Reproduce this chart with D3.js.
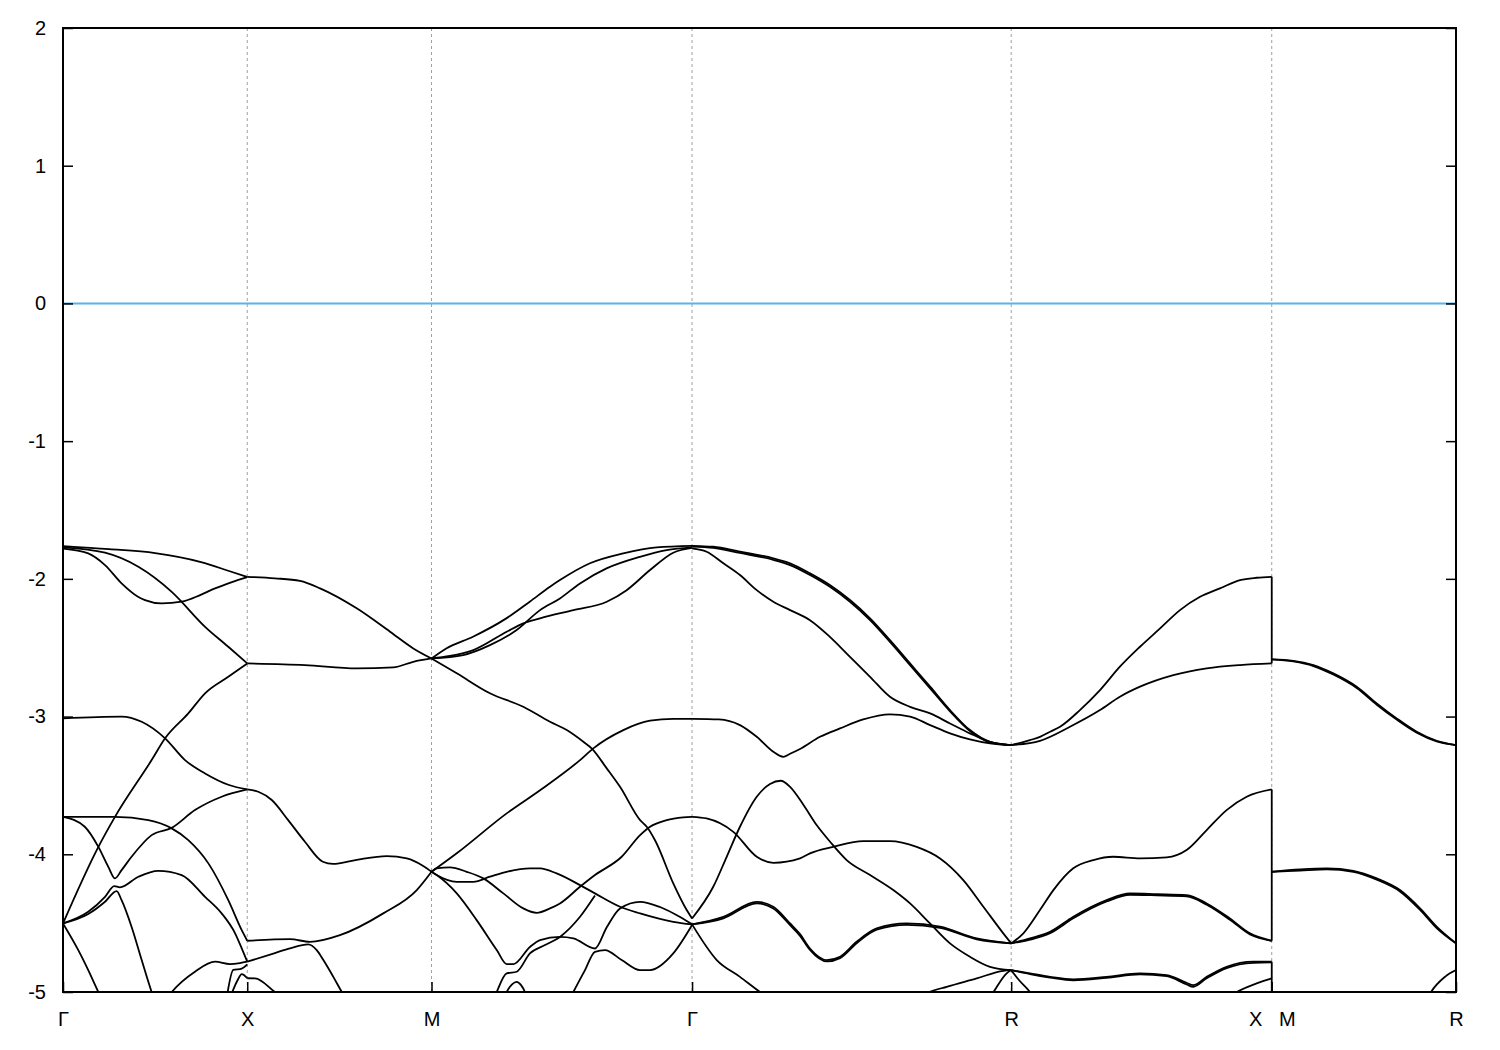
<!DOCTYPE html>
<html>
<head>
<meta charset="utf-8">
<script src="https://cdn.jsdelivr.net/npm/d3@7"></script>
<style>
  html, body { margin: 0; padding: 0; background: #ffffff; }
  svg { display: block; }
</style>
</head>
<body>
<svg id="chart" width="1500" height="1050"></svg>
<script>
// ---------------- data ----------------
const kPoints = [0, 1, 2, 3.414, 5.146, 6.560, 7.560];
const kLabels = ["Γ", "X", "M", "Γ", "R", "X   M", "R"];
const gridK = [1, 2, 3.414, 5.146, 6.560];
const yTicks = [2, 1, 0, -1, -2, -3, -4, -5];
const fermiLevel = 0;

// Γ – X
const gammaX = [
  [[0,-1.762],[0.25,-1.784],[0.5,-1.813],[0.749,-1.878],[0.901,-1.943],[1,-1.987]],
  [[0,-1.78],[0.137,-1.815],[0.228,-1.90],[0.318,-2.033],[0.407,-2.13],[0.445,-2.154],[0.536,-2.178],[0.644,-2.166],[0.744,-2.118],[0.825,-2.069],[0.917,-2.023],[1,-1.987]],
  [[0,-1.771],[0.228,-1.81],[0.409,-1.912],[0.59,-2.094],[0.771,-2.348],[0.897,-2.493],[1,-2.614]],
  [[0,-3.013],[0.318,-3.0],[0.427,-3.038],[0.554,-3.158],[0.662,-3.316],[0.771,-3.413],[0.901,-3.497],[1,-3.529]],
  [[0,-4.502],[0.192,-3.946],[0.282,-3.728],[0.481,-3.316],[0.554,-3.158],[0.68,-2.977],[0.771,-2.831],[0.897,-2.711],[1,-2.614]],
  [[0,-3.728],[0.282,-3.728],[0.463,-3.752],[0.59,-3.812],[0.68,-3.897],[0.789,-4.066],[0.897,-4.333],[0.97,-4.551],[1,-4.628]],
  [[0,-3.728],[0.118,-3.80],[0.192,-3.946],[0.246,-4.091],[0.282,-4.175],[0.318,-4.115],[0.372,-4.018],[0.481,-3.861],[0.59,-3.808],[0.716,-3.679],[0.861,-3.582],[1,-3.529]],
  [[0,-4.502],[0.137,-4.418],[0.228,-4.309],[0.278,-4.231],[0.309,-4.24],[0.409,-4.163],[0.517,-4.12],[0.644,-4.151],[0.771,-4.309],[0.861,-4.429],[0.934,-4.574],[0.97,-4.683],[1,-4.78]],
  [[0,-4.502],[0.137,-4.434],[0.228,-4.345],[0.291,-4.267],[0.318,-4.333],[0.372,-4.526],[0.427,-4.768],[0.481,-5.0],[0.516,-5.13]],
  [[0,-4.502],[0.083,-4.696],[0.137,-4.841],[0.192,-5.0],[0.228,-5.1]],
  [[0.554,-5.06],[0.59,-5.0],[0.716,-4.853],[0.825,-4.78],[0.906,-4.797],[0.96,-4.79],[1,-4.78]],
  [[0.89,-5.03],[0.924,-4.84],[0.97,-4.83],[1,-4.80]],
  [[0.91,-5.03],[0.948,-4.913],[0.97,-4.87],[1,-4.9]]
];

// X – M
const xM = [
  [[1,-1.985],[1.15,-1.996],[1.286,-2.015],[1.395,-2.069],[1.594,-2.214],[1.775,-2.384],[1.901,-2.505],[2,-2.578]],
  [[1,-2.614],[1.313,-2.626],[1.594,-2.65],[1.793,-2.643],[1.901,-2.602],[2,-2.578]],
  [[1,-3.529],[1.06,-3.546],[1.133,-3.606],[1.222,-3.752],[1.313,-3.909],[1.41,-4.054],[1.465,-4.07],[1.594,-4.04],[1.757,-4.013],[1.866,-4.03],[1.955,-4.085],[2,-4.127]],
  [[1,-4.628],[1.232,-4.616],[1.34,-4.636],[1.503,-4.587],[1.738,-4.429],[1.92,-4.26],[2,-4.127]],
  [[1,-4.78],[1.15,-4.717],[1.232,-4.683],[1.331,-4.654],[1.377,-4.696],[1.413,-4.768],[1.467,-4.89],[1.513,-5.0],[1.54,-5.06]],
  [[1,-4.9],[1.042,-4.901],[1.15,-5.0],[1.19,-5.04]]
];

// M – Γ
const mGamma = [
  [[2,-2.578],[2.08,-2.505],[2.225,-2.42],[2.406,-2.287],[2.533,-2.166],[2.643,-2.057],[2.697,-2.009],[2.86,-1.887],[3.041,-1.815],[3.222,-1.771],[3.414,-1.76]],
  [[2,-2.578],[2.172,-2.553],[2.317,-2.481],[2.462,-2.372],[2.589,-2.227],[2.697,-2.142],[2.806,-2.033],[2.95,-1.924],[3.131,-1.84],[3.276,-1.791],[3.414,-1.771]],
  [[2,-2.578],[2.1,-2.56],[2.227,-2.517],[2.408,-2.384],[2.498,-2.323],[2.589,-2.287],[2.77,-2.227],[2.951,-2.166],[3.059,-2.082],[3.186,-1.936],[3.312,-1.81],[3.414,-1.775]],
  [[2,-2.578],[2.137,-2.686],[2.317,-2.831],[2.498,-2.929],[2.643,-3.038],[2.734,-3.098],[2.824,-3.183],[2.869,-3.231],[2.951,-3.376],[3.023,-3.51],[3.132,-3.752],[3.168,-3.80],[3.213,-3.898],[3.312,-4.211],[3.385,-4.405],[3.414,-4.466]],
  [[2,-4.127],[2.137,-3.993],[2.408,-3.703],[2.589,-3.535],[2.806,-3.316],[2.878,-3.231],[3.041,-3.098],[3.186,-3.03],[3.312,-3.016],[3.414,-3.016]],
  [[2,-4.127],[2.028,-4.102],[2.1,-4.095],[2.191,-4.127],[2.281,-4.175],[2.39,-4.284],[2.498,-4.393],[2.571,-4.425],[2.643,-4.393],[2.697,-4.357],[2.806,-4.236],[2.887,-4.151],[3.032,-4.018],[3.132,-3.861],[3.186,-3.80],[3.276,-3.752],[3.366,-3.732],[3.414,-3.728]],
  [[2,-4.127],[2.028,-4.151],[2.137,-4.20],[2.227,-4.20],[2.317,-4.163],[2.408,-4.127],[2.534,-4.102],[2.589,-4.102],[2.679,-4.139],[2.806,-4.224],[2.887,-4.284],[3.023,-4.381],[3.132,-4.429],[3.312,-4.49],[3.414,-4.509]],
  [[2,-4.127],[2.028,-4.151],[2.137,-4.284],[2.245,-4.478],[2.354,-4.695],[2.408,-4.797],[2.444,-4.797],[2.534,-4.673],[2.589,-4.623],[2.697,-4.6],[2.77,-4.611],[2.887,-4.684],[2.951,-4.53],[3.023,-4.393],[3.132,-4.345],[3.24,-4.383],[3.349,-4.456],[3.414,-4.509]],
  [[2.33,-5.08],[2.354,-5.0],[2.408,-4.865],[2.462,-4.853],[2.534,-4.72],[2.616,-4.659],[2.697,-4.6],[2.806,-4.454],[2.887,-4.30]],
  [[2.74,-5.08],[2.77,-5.0],[2.833,-4.841],[2.887,-4.708],[2.941,-4.696],[3.032,-4.768],[3.132,-4.841],[3.186,-4.841],[3.312,-4.72],[3.414,-4.514]],
  [[2.39,-5.06],[2.408,-5.0],[2.437,-4.945],[2.462,-4.926],[2.486,-4.95],[2.507,-5.0],[2.52,-5.05]]
];

// Γ – R
const gammaR = [
  [[3.414,-1.76],[3.529,-1.767],[3.674,-1.803],[3.855,-1.851],[3.946,-1.887],[4.054,-1.96],[4.162,-2.045],[4.271,-2.154],[4.38,-2.287],[4.488,-2.445],[4.597,-2.614],[4.706,-2.783],[4.814,-2.953],[4.922,-3.098],[5.031,-3.183],[5.146,-3.207]],
  [[3.414,-1.765],[3.529,-1.775],[3.674,-1.812],[3.855,-1.862],[3.946,-1.9],[4.054,-1.972],[4.162,-2.058],[4.271,-2.167],[4.38,-2.3],[4.488,-2.458],[4.597,-2.626],[4.706,-2.795],[4.814,-2.962],[4.922,-3.105],[5.031,-3.187],[5.146,-3.207]],
  [[3.414,-1.779],[3.493,-1.803],[3.584,-1.887],[3.674,-1.972],[3.765,-2.082],[3.855,-2.166],[3.946,-2.227],[4.054,-2.3],[4.162,-2.421],[4.271,-2.566],[4.38,-2.711],[4.488,-2.856],[4.597,-2.929],[4.706,-2.977],[4.814,-3.05],[4.922,-3.122],[5.031,-3.183],[5.146,-3.207]],
  [[3.414,-3.016],[3.56,-3.02],[3.674,-3.062],[3.765,-3.147],[3.855,-3.256],[3.909,-3.292],[3.946,-3.27],[4.0,-3.235],[4.108,-3.147],[4.217,-3.086],[4.343,-3.021],[4.488,-2.984],[4.597,-3.0],[4.706,-3.062],[4.814,-3.122],[4.922,-3.166],[5.031,-3.195],[5.146,-3.207]],
  [[3.414,-3.728],[3.493,-3.74],[3.638,-3.837],[3.765,-4.018],[3.855,-4.062],[4.0,-4.03],[4.054,-3.993],[4.18,-3.946],[4.343,-3.904],[4.488,-3.904],[4.633,-3.946],[4.76,-4.03],[4.886,-4.187],[4.995,-4.381],[5.103,-4.574],[5.146,-4.647]],
  [[3.414,-4.466],[3.529,-4.236],[3.602,-4.018],[3.674,-3.80],[3.765,-3.582],[3.837,-3.49],[3.895,-3.466],[3.946,-3.51],[4.018,-3.64],[4.09,-3.788],[4.163,-3.909],[4.253,-4.042],[4.38,-4.151],[4.506,-4.26],[4.597,-4.357],[4.705,-4.502],[4.814,-4.647],[4.922,-4.744],[5.031,-4.817],[5.146,-4.841]],
  [[3.414,-4.509],[3.584,-4.454],[3.765,-4.345],[3.855,-4.381],[3.946,-4.502],[4.0,-4.58],[4.054,-4.684],[4.145,-4.768],[4.217,-4.744],[4.307,-4.635],[4.416,-4.538],[4.579,-4.502],[4.76,-4.526],[4.959,-4.611],[5.146,-4.647]],
  [[3.414,-4.509],[3.584,-4.465],[3.765,-4.356],[3.855,-4.393],[3.946,-4.515],[4.0,-4.592],[4.054,-4.695],[4.145,-4.778],[4.217,-4.754],[4.307,-4.646],[4.416,-4.548],[4.579,-4.512],[4.76,-4.534],[4.959,-4.617],[5.146,-4.647]],
  [[3.414,-4.509],[3.548,-4.768],[3.674,-4.89],[3.783,-5.0],[3.85,-5.06]],
  [[4.68,-5.01],[4.7,-5.0],[4.796,-4.962],[4.959,-4.901],[5.103,-4.846],[5.146,-4.841]],
  [[5.03,-5.04],[5.05,-5.0],[5.12,-4.866],[5.146,-4.841]]
];

// R – X
const rX = [
  [[5.146,-3.207],[5.248,-3.171],[5.302,-3.147],[5.357,-3.11],[5.411,-3.074],[5.519,-2.953],[5.628,-2.808],[5.736,-2.638],[5.845,-2.493],[5.954,-2.36],[6.062,-2.227],[6.171,-2.13],[6.279,-2.069],[6.388,-2.009],[6.478,-1.992],[6.56,-1.985]],
  [[5.146,-3.207],[5.302,-3.176],[5.465,-3.074],[5.628,-2.953],[5.736,-2.856],[5.845,-2.783],[6.026,-2.699],[6.207,-2.65],[6.388,-2.626],[6.56,-2.614]],
  [[5.146,-4.647],[5.212,-4.574],[5.302,-4.405],[5.375,-4.26],[5.483,-4.102],[5.592,-4.042],[5.7,-4.018],[5.845,-4.03],[5.99,-4.022],[6.098,-3.969],[6.207,-3.824],[6.315,-3.679],[6.424,-3.582],[6.56,-3.529]],
  [[5.146,-4.647],[5.248,-4.611],[5.357,-4.563],[5.483,-4.454],[5.664,-4.333],[5.791,-4.284],[5.936,-4.289],[6.098,-4.296],[6.207,-4.357],[6.333,-4.466],[6.442,-4.574],[6.56,-4.628]],
  [[5.146,-4.647],[5.248,-4.62],[5.357,-4.573],[5.483,-4.465],[5.664,-4.343],[5.791,-4.294],[5.936,-4.298],[6.098,-4.305],[6.207,-4.366],[6.333,-4.475],[6.442,-4.582],[6.56,-4.628]],
  [[5.146,-4.841],[5.248,-4.865],[5.357,-4.89],[5.483,-4.908],[5.664,-4.89],[5.845,-4.865],[5.99,-4.877],[6.098,-4.933],[6.134,-4.95],[6.207,-4.89],[6.315,-4.817],[6.46,-4.78],[6.56,-4.78]],
  [[5.146,-4.841],[5.248,-4.87],[5.357,-4.895],[5.483,-4.915],[5.664,-4.897],[5.845,-4.872],[5.99,-4.885],[6.098,-4.945],[6.134,-4.962],[6.207,-4.9],[6.315,-4.826],[6.46,-4.788],[6.56,-4.785]],
  [[6.34,-5.03],[6.36,-5.01],[6.478,-4.938],[6.56,-4.901]],
  [[5.146,-4.841],[5.188,-4.913],[5.248,-5.0],[5.27,-5.04]]
];

// X | M discontinuity joins
const xmJumps = [
  [[6.56,-1.985],[6.56,-2.614]],
  [[6.56,-3.529],[6.56,-4.628]],
  [[6.56,-4.78],[6.56,-5.1]]
];

// M – R
const mR = [
  [[6.56,-2.585],[6.677,-2.595],[6.786,-2.626],[6.894,-2.686],[7.021,-2.783],[7.13,-2.904],[7.238,-3.013],[7.347,-3.11],[7.455,-3.176],[7.56,-3.207]],
  [[6.56,-2.585],[6.677,-2.6],[6.786,-2.633],[6.894,-2.695],[7.021,-2.793],[7.13,-2.914],[7.238,-3.022],[7.347,-3.117],[7.455,-3.18],[7.56,-3.207]],
  [[6.56,-4.127],[6.714,-4.11],[6.859,-4.102],[7.003,-4.12],[7.13,-4.175],[7.256,-4.26],[7.365,-4.393],[7.455,-4.526],[7.56,-4.647]],
  [[6.56,-4.127],[6.714,-4.118],[6.859,-4.11],[7.003,-4.128],[7.13,-4.185],[7.256,-4.27],[7.365,-4.404],[7.455,-4.536],[7.56,-4.647]],
  [[7.40,-5.06],[7.42,-5.01],[7.5,-4.89],[7.56,-4.841]]
];

// ---------------- drawing ----------------
(function () {
const W = 1500, H = 1050;
const plotLeft = 63, plotRight = 1456, plotTop = 28, plotBottom = 992;
const FONT = "'Liberation Sans', Arial, Helvetica, sans-serif";

const svg = d3.select("#chart");
svg.append("rect").attr("width", W).attr("height", H).attr("fill", "#ffffff");

const x = d3.scaleLinear().domain([kPoints[0], kPoints[kPoints.length - 1]]).range([plotLeft, plotRight]);
const y = d3.scaleLinear().domain([-5, 2]).range([plotBottom, plotTop]);

svg.append("defs").append("clipPath").attr("id", "plotclip")
  .append("rect").attr("x", plotLeft).attr("y", plotTop)
  .attr("width", plotRight - plotLeft).attr("height", plotBottom - plotTop);

// vertical dashed grid at high-symmetry points
svg.append("g").selectAll("line").data(gridK).join("line")
  .attr("x1", d => x(d)).attr("x2", d => x(d))
  .attr("y1", y(2)).attr("y2", y(-5))
  .attr("stroke", "#a0a0a0").attr("stroke-width", 1)
  .attr("stroke-dasharray", "3,3");

// Fermi level
svg.append("line")
  .attr("x1", x(kPoints[0])).attr("x2", x(kPoints[kPoints.length - 1]))
  .attr("y1", y(fermiLevel)).attr("y2", y(fermiLevel))
  .attr("stroke", "#56b4e9").attr("stroke-width", 2);

// bands
const line = d3.line().x(d => x(d[0])).y(d => y(d[1])).curve(d3.curveMonotoneX);
const straight = d3.line().x(d => x(d[0])).y(d => y(d[1]));
const bandsG = svg.append("g").attr("clip-path", "url(#plotclip)");
const allBands = [].concat(gammaX, xM, mGamma, gammaR, rX, mR);
bandsG.selectAll("path.band").data(allBands).join("path")
  .attr("class", "band")
  .attr("d", line)
  .attr("fill", "none").attr("stroke", "#000").attr("stroke-width", 1.8)
  .attr("stroke-linejoin", "round");
bandsG.selectAll("path.jump").data(xmJumps).join("path")
  .attr("class", "jump")
  .attr("d", straight)
  .attr("fill", "none").attr("stroke", "#000").attr("stroke-width", 1.8);

// axes
const yLeft = d3.axisLeft(y).tickValues(yTicks).tickSize(-10).tickPadding(17)
  .tickFormat(d => String(d));
const gL = svg.append("g").attr("transform", `translate(${plotLeft},0)`).call(yLeft);
const yRight = d3.axisRight(y).tickValues(yTicks).tickSize(-10).tickFormat("");
const gR = svg.append("g").attr("transform", `translate(${plotRight},0)`).call(yRight);
const xBottom = d3.axisBottom(x).tickValues(kPoints).tickSize(-10).tickPadding(20)
  .tickFormat((d, i) => kLabels[i]);
const gB = svg.append("g").attr("transform", `translate(0,${plotBottom})`).call(xBottom);

[gL, gR, gB].forEach(g => {
  g.select(".domain").remove();
  g.selectAll(".tick line").attr("stroke", "#000").attr("stroke-width", 1.5);
  g.selectAll("text").attr("fill", "#000")
    .style("font-family", FONT).style("font-size", "20px");
});
gB.selectAll("text").style("white-space", "pre");

// frame
svg.append("rect")
  .attr("x", plotLeft).attr("y", plotTop)
  .attr("width", plotRight - plotLeft).attr("height", plotBottom - plotTop)
  .attr("fill", "none").attr("stroke", "#000").attr("stroke-width", 2);
})();
</script>
</body>
</html>
